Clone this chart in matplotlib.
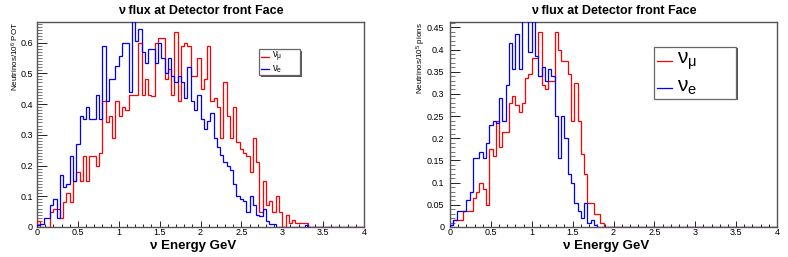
import matplotlib

matplotlib.use("Agg")
import matplotlib.pyplot as plt  # noqa: E402
import numpy as np  # noqa: E402
from matplotlib.lines import Line2D  # noqa: E402
from matplotlib.patches import Rectangle  # noqa: E402
from matplotlib.ticker import FuncFormatter, MultipleLocator  # noqa: E402

plt.rcParams["font.family"] = ["Liberation Sans", "DejaVu Sans"]
plt.rcParams["mathtext.fontset"] = "custom"
plt.rcParams["mathtext.rm"] = "Liberation Sans"
plt.rcParams["mathtext.it"] = "Liberation Sans"
plt.rcParams["mathtext.bf"] = "Liberation Sans:bold"

W, H = 788, 257

# 100 bins of 0.04 GeV between 0 and 4 GeV
ENERGY_EDGES = np.linspace(0.0, 4.0, 101)

# left panel: neutrinos / 10^6 POT
POT_NUMU = [
    0.02, 0.0, 0.0, 0.0, 0.05, 0.06, 0.06, 0.03, 0.08, 0.11,
    0.08, 0.15, 0.18, 0.15, 0.23, 0.15, 0.23, 0.23, 0.20, 0.24,
    0.41, 0.34, 0.36, 0.29, 0.41, 0.36, 0.39, 0.38, 0.43, 0.43,
    0.43, 0.60, 0.43, 0.48, 0.43, 0.425, 0.60, 0.615, 0.615, 0.48,
    0.515, 0.43, 0.635, 0.41, 0.59, 0.60, 0.59, 0.49, 0.49, 0.55,
    0.45, 0.48, 0.59, 0.41, 0.42, 0.39, 0.29, 0.47, 0.36, 0.29,
    0.39, 0.275, 0.255, 0.24, 0.23, 0.18, 0.29, 0.21, 0.05, 0.15,
    0.07, 0.085, 0.05, 0.10, 0.05, 0.0, 0.04, 0.013, 0.024, 0.012,
    0.012, 0.012, 0.012, 0.0, 0.0, 0.0, 0.0, 0.0, 0.0, 0.0,
    0.0, 0.0, 0.0, 0.0, 0.0, 0.0, 0.0, 0.0, 0.0, 0.0,
]
POT_NUE = [
    0.005, 0.01, 0.03, 0.03, 0.07, 0.09, 0.03, 0.17, 0.13, 0.14,
    0.23, 0.15, 0.27, 0.36, 0.35, 0.39, 0.35, 0.35, 0.43, 0.35,
    0.59, 0.41, 0.48, 0.48, 0.525, 0.555, 0.60, 0.60, 0.44, 0.67,
    0.605, 0.645, 0.57, 0.535, 0.58, 0.58, 0.535, 0.60, 0.55, 0.50,
    0.55, 0.49, 0.47, 0.49, 0.47, 0.42, 0.52, 0.41, 0.38, 0.43,
    0.35, 0.32, 0.345, 0.37, 0.29, 0.26, 0.235, 0.21, 0.20, 0.185,
    0.14, 0.10, 0.09, 0.085, 0.05, 0.10, 0.07, 0.04, 0.035, 0.06,
    0.02, 0.01, 0.01, 0.0, 0.0, 0.0, 0.0, 0.0, 0.0, 0.0,
    0.0, 0.0, 0.005, 0.0, 0.0, 0.0, 0.0, 0.0, 0.0, 0.0,
    0.0, 0.0, 0.0, 0.0, 0.0, 0.0, 0.0, 0.0, 0.0, 0.0,
]

# right panel: neutrinos / 10^5 pions
PION_NUMU = [
    0.005, 0.015, 0.015, 0.015, 0.035, 0.035, 0.035, 0.065, 0.08, 0.10,
    0.085, 0.05, 0.175, 0.16, 0.24, 0.18, 0.215, 0.215, 0.28, 0.295,
    0.275, 0.26, 0.28, 0.335, 0.345, 0.38, 0.38, 0.44, 0.32, 0.31,
    0.33, 0.33, 0.44, 0.40, 0.375, 0.375, 0.345, 0.24, 0.325, 0.24,
    0.165, 0.12, 0.055, 0.055, 0.03, 0.03, 0.01, 0.0, 0.0, 0.0,
    0.0, 0.0, 0.0, 0.0, 0.0, 0.0, 0.0, 0.0, 0.0, 0.0,
    0.0, 0.0, 0.0, 0.0, 0.0, 0.0, 0.0, 0.0, 0.0, 0.0,
    0.0, 0.0, 0.0, 0.0, 0.0, 0.0, 0.0, 0.0, 0.0, 0.0,
    0.0, 0.0, 0.0, 0.0, 0.0, 0.0, 0.0, 0.0, 0.0, 0.0,
    0.0, 0.0, 0.0, 0.0, 0.0, 0.0, 0.0, 0.0, 0.0, 0.0,
]
PION_NUE = [
    0.005, 0.015, 0.035, 0.035, 0.035, 0.06, 0.08, 0.155, 0.155, 0.168,
    0.155, 0.19, 0.23, 0.24, 0.235, 0.29, 0.24, 0.32, 0.415, 0.355,
    0.435, 0.355, 0.48, 0.48, 0.395, 0.48, 0.385, 0.34, 0.36, 0.33,
    0.355, 0.34, 0.25, 0.155, 0.25, 0.20, 0.12, 0.10, 0.055, 0.035,
    0.02, 0.055, 0.01, 0.015, 0.005, 0.0, 0.0, 0.0, 0.0, 0.0,
    0.0, 0.0, 0.0, 0.0, 0.0, 0.0, 0.0, 0.0, 0.0, 0.0,
    0.0, 0.0, 0.0, 0.0, 0.0, 0.0, 0.0, 0.0, 0.0, 0.0,
    0.0, 0.0, 0.0, 0.0, 0.0, 0.0, 0.0, 0.0, 0.0, 0.0,
    0.0, 0.0, 0.0, 0.0, 0.0, 0.0, 0.0, 0.0, 0.0, 0.0,
    0.0, 0.0, 0.0, 0.0, 0.0, 0.0, 0.0, 0.0, 0.0, 0.0,
]

TITLE = "ν flux at Detector front Face"
XLABEL = "ν Energy GeV"
LEGEND_LABELS = [r"$\nu_{\mu}$", r"$\nu_{e}$"]
RED, BLUE = "#ff0000", "#0000ff"


def fx(px):
    return px / W


def fy(py):
    return 1 - py / H


def tick_fmt(value, _pos):
    return f"{value:g}"


def setup_axis(ax, ymax, ymajor, ylabel_pad):
    ax.set_xlim(0, 4)
    ax.set_ylim(0, ymax)
    ax.xaxis.set_major_locator(MultipleLocator(0.5))
    ax.xaxis.set_minor_locator(MultipleLocator(0.1))
    ax.yaxis.set_major_locator(MultipleLocator(ymajor))
    ax.yaxis.set_minor_locator(MultipleLocator(0.01))
    ax.xaxis.set_major_formatter(FuncFormatter(tick_fmt))
    ax.yaxis.set_major_formatter(FuncFormatter(tick_fmt))
    ax.tick_params(which="both", direction="in", top=False, right=False,
                   labelsize=6.5, width=0.7, color="#222222")
    ax.tick_params(axis="x", which="major", length=4.3, pad=1)
    ax.tick_params(axis="x", which="minor", length=2.2)
    ax.tick_params(axis="y", which="major", length=7.2, pad=ylabel_pad)
    ax.tick_params(axis="y", which="minor", length=3.6, color="#777777")
    for spine in ax.spines.values():
        spine.set_color("#555555")
        spine.set_linewidth(1.0)


def legend_box(fig, x0, y0, x1, y1, rows, line_x, text_x, fontsize):
    shadow = Rectangle((fx(x0 + 1.5), fy(y1 + 1.5)), fx(x1 - x0), (y1 - y0) / H,
                       transform=fig.transFigure, facecolor="#555555",
                       edgecolor="none", zorder=5)
    box = Rectangle((fx(x0), fy(y1)), fx(x1 - x0), (y1 - y0) / H,
                    transform=fig.transFigure, facecolor="white",
                    edgecolor="#666666", linewidth=0.9, zorder=6)
    fig.add_artist(shadow)
    fig.add_artist(box)
    for (row_y, color), label in zip(rows, LEGEND_LABELS):
        fig.add_artist(Line2D([fx(line_x[0]), fx(line_x[1])], [fy(row_y), fy(row_y)],
                              transform=fig.transFigure, color=color,
                              linewidth=0.9, zorder=7))
        fig.text(fx(text_x), fy(row_y), label, fontsize=fontsize,
                 ha="left", va="center", zorder=7)


def main():
    fig = plt.figure(figsize=(W / 100, H / 100), dpi=100)

    panels = [
        (37, POT_NUMU, POT_NUE, 0.1, "Neutrinos/10$^{6}$ POT", 15, 193, 3.0),
        (450, PION_NUMU, PION_NUE, 0.05, "Neutrinos/10$^{5}$ pions", 421, 606, 4.0),
    ]
    for left, numu, nue, ymajor, ylabel, ylab_x, xlab_x, pad in panels:
        ax = fig.add_axes([fx(left), fy(227), fx(327), 205 / H])
        ymax = 1.05 * max(numu)
        ax.stairs(numu, ENERGY_EDGES, color=RED, linewidth=0.9, zorder=3)
        ax.stairs(nue, ENERGY_EDGES, color=BLUE, linewidth=0.9, zorder=3.1)
        setup_axis(ax, ymax, ymajor, pad)
        fig.text(fx(left + 163.5), fy(11), TITLE, fontsize=9, fontweight="bold",
                 ha="center", va="center")
        fig.text(fx(xlab_x), fy(246), XLABEL, fontsize=9.5, fontweight="bold",
                 ha="center", va="center")
        fig.text(fx(ylab_x), fy(22), ylabel, fontsize=5.8, rotation=90,
                 ha="center", va="top")

    legend_box(fig, 259, 49, 300, 75, [(57, RED), (69, BLUE)],
               (261, 269), 272, 7)
    legend_box(fig, 654, 47, 736, 99, [(61, RED), (88, BLUE)],
               (657, 672), 677, 15)

    fig.savefig("out.png", dpi=100)


if __name__ == "__main__":
    main()
